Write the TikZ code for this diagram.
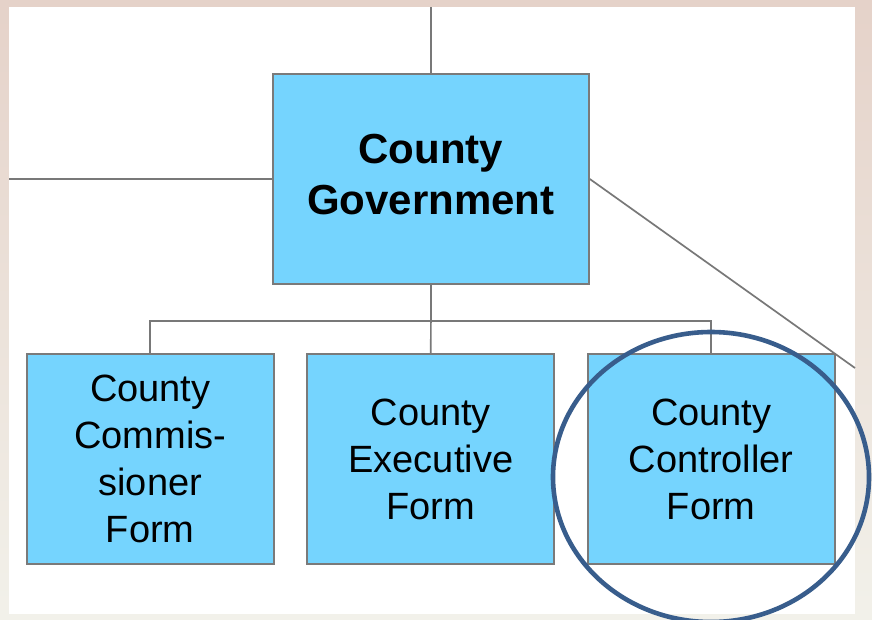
\documentclass[tikz,border=0pt]{standalone}
\usepackage{fontspec}
\setmainfont{Liberation Sans}
\definecolor{bgtop}{RGB}{229,210,201}
\definecolor{bgbot}{RGB}{242,241,234}
\definecolor{boxfill}{RGB}{117,212,254}
\definecolor{boxline}{RGB}{122,122,122}
\definecolor{wire}{RGB}{120,120,120}
\definecolor{ring}{RGB}{56,93,140}
\tikzset{
  orgbox/.style={draw=boxline, line width=1.8pt, fill=boxfill, inner sep=0pt,
    minimum width=247pt, minimum height=210pt, align=center,
    font=\fontsize{38}{47}\selectfont},
  topbox/.style={orgbox, minimum width=316pt, font=\bfseries\fontsize{42}{51}\selectfont},
  wireline/.style={draw=wire, line width=1.7pt},
}
\begin{document}
\begin{tikzpicture}[x=1pt,y=-1pt]
\useasboundingbox (0,0) rectangle (872,619);
\clip (0,0) rectangle (872,619);
\shade[top color=bgtop, bottom color=bgbot] (0,0) rectangle (872,619);
\fill[white] (9,7) rectangle (855,614);
\node[topbox] (gov) at (430.9,179) {\raisebox{4pt}{\begin{tabular}{@{}c@{}}County\\Government\end{tabular}}};
\node[orgbox] (c1) at (150.3,459.3) {County\\Commis-\\sioner\\Form};
\node[orgbox] (c2) at (430.8,459.3) {County\\Executive\\Form};
\node[orgbox] (c3) at (711.3,459.3) {County\\Controller\\Form};
\coordinate (topend) at (gov.north |- 0,7);
\coordinate (leftend) at (gov.west -| 9,0);
\coordinate (diagend) at (855,368);
\coordinate (bus) at (gov.south |- 0,320.7);
\draw[wireline] (gov.north) -- (topend);
\draw[wireline] (gov.west) -- (leftend);
\draw[wireline] (gov.east) -- (diagend);
\draw[wireline] (gov.south) -- (bus);
\draw[wireline] (c1.north) |- (bus) -| (c3.north);
\draw[wireline] (bus) -- (c2.north);
\draw[ring, line width=4.6pt] (711,477) ellipse [x radius=158pt, y radius=145pt];
\end{tikzpicture}
\end{document}
